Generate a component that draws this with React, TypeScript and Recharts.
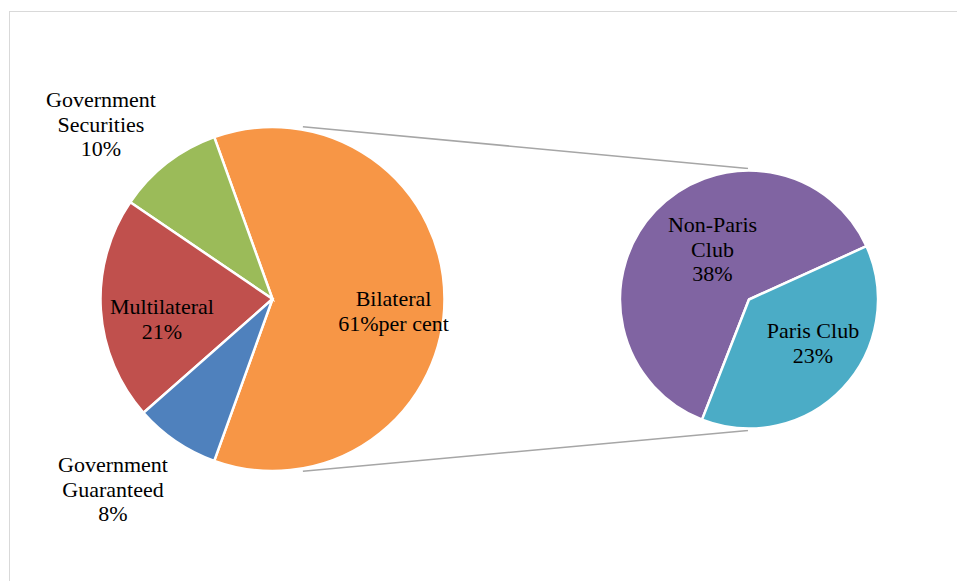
import React from "react";
import { PieChart, Pie, Cell, Customized } from "recharts";

// ---- data ----
const mainCategories = ["Bilateral", "Government Securities", "Multilateral", "Government Guaranteed"];
const mainValues = [61, 10, 21, 8];
const mainLabelValues = ["61%per cent", "10%", "21%", "8%"];

const secondCategories = ["Non-Paris Club", "Paris Club"];
const secondValues = [38, 23];
const secondLabelValues = ["38%", "23%"];

// ---- styles / layout ----
const mainColors = ["#F79646", "#9BBB59", "#C0504D", "#4F81BD"];
const secondColors = ["#8064A2", "#4BACC6"];

const W = 957;
const H = 581;
const FONT = "'Liberation Serif', 'Times New Roman', serif";
const FONT_SIZE = 22;
const LINE_H = 24.7;

const LEFT = { cx: 272.5, cy: 299, r: 172, start: -109.8 };
const RIGHT = { cx: 749, cy: 299.5, r: 129, start: 24.4 };

// label placement: center x, first baseline y, wrap name into words
const mainLabelPos = [
  { x: 393.5, y: 306, wrap: false },
  { x: 101, y: 107, wrap: true },
  { x: 162, y: 314, wrap: false },
  { x: 113, y: 472, wrap: true },
];
const secondLabelPos = [
  { x: 712.5, y: 232, wrap: true },
  { x: 813, y: 338, wrap: false },
];

const mainData = mainCategories.map((name, i) => ({ name, value: mainValues[i] }));
const secondData = secondCategories.map((name, i) => ({ name, value: secondValues[i] }));

function makeLabel(
  names: string[],
  vals: string[],
  pos: { x: number; y: number; wrap: boolean }[]
) {
  return (props: any) => {
    const i = props.index;
    const p = pos[i];
    const lines = (p.wrap ? names[i].split(" ") : [names[i]]).concat([vals[i]]);
    return (
      <text
        key={`lbl-${names[i]}`}
        x={p.x}
        y={p.y}
        textAnchor="middle"
        fill="#000"
        fontFamily={FONT}
        fontSize={FONT_SIZE}
      >
        {lines.map((t, k) => (
          <tspan key={k} x={p.x} y={p.y + k * LINE_H}>
            {t}
          </tspan>
        ))}
      </text>
    );
  };
}

const rad = Math.PI / 180;
function Connectors() {
  const a = 80;
  const lr = LEFT.r + 3;
  const rr = RIGHT.r + 2;
  const x1 = LEFT.cx + lr * Math.cos(a * rad);
  const yTop = LEFT.cy - lr * Math.sin(a * rad);
  const yBot = LEFT.cy + lr * Math.sin(a * rad);
  return (
    <g>
      <line x1={x1} y1={yTop} x2={RIGHT.cx - 1} y2={RIGHT.cy - rr} stroke="#A6A6A6" strokeWidth={1.5} />
      <line x1={x1} y1={yBot} x2={RIGHT.cx - 1} y2={RIGHT.cy + rr} stroke="#A6A6A6" strokeWidth={1.5} />
    </g>
  );
}

export default function App() {
  return (
    <div style={{ position: "absolute", left: 0, top: 0, width: W, height: H, overflow: "hidden", background: "#fff" }}>
      <div
        style={{
          position: "absolute",
          left: 9,
          top: 10.5,
          width: W + 20,
          height: H + 20,
          borderTop: "1.5px solid #D9D9D9",
          borderLeft: "1.5px solid #D9D9D9",
        }}
      />
      <div style={{ position: "absolute", left: 0, top: 0 }}>
        <PieChart width={W} height={H} margin={{ top: 0, right: 0, bottom: 0, left: 0 }}>
          <Customized component={<Connectors />} />
          <Pie
            data={mainData}
            dataKey="value"
            nameKey="name"
            cx={LEFT.cx}
            cy={LEFT.cy}
            outerRadius={LEFT.r}
            startAngle={LEFT.start}
            endAngle={LEFT.start + 360}
            stroke="#FFFFFF"
            strokeWidth={2.5}
            isAnimationActive={false}
            labelLine={false}
            label={makeLabel(mainCategories, mainLabelValues, mainLabelPos)}
          >
            {mainData.map((d, i) => (
              <Cell key={d.name} fill={mainColors[i]} />
            ))}
          </Pie>
          <Pie
            data={secondData}
            dataKey="value"
            nameKey="name"
            cx={RIGHT.cx}
            cy={RIGHT.cy}
            outerRadius={RIGHT.r}
            startAngle={RIGHT.start}
            endAngle={RIGHT.start + 360}
            stroke="#FFFFFF"
            strokeWidth={2.5}
            isAnimationActive={false}
            labelLine={false}
            label={makeLabel(secondCategories, secondLabelValues, secondLabelPos)}
          >
            {secondData.map((d, i) => (
              <Cell key={d.name} fill={secondColors[i]} />
            ))}
          </Pie>
        </PieChart>
      </div>
    </div>
  );
}
